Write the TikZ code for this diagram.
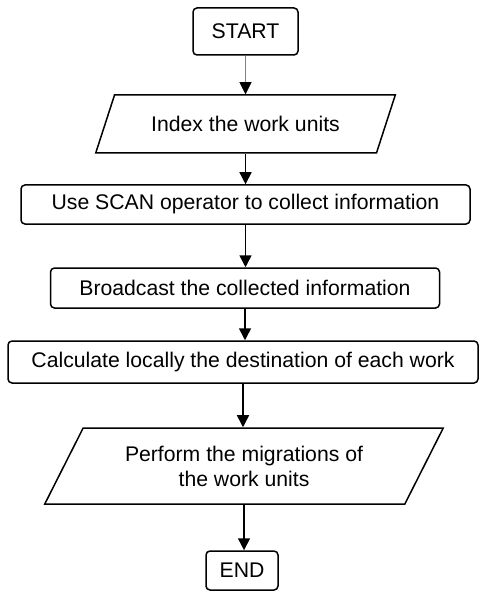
\documentclass[tikz,border=0pt]{standalone}
\usepackage{fontspec}
\setmainfont{Liberation Sans}
\usetikzlibrary{shapes.geometric,arrows.meta}
\tikzset{mydraw/.style={black,line width=0.75pt,-{Triangle[width=6pt,length=6pt,black]}}}
\tikzset{mybox/.style={draw,line width=0.75pt,rounded corners=2pt,inner sep=0pt,font=\fontsize{10.6}{12.5}\selectfont}}
\tikzset{myslant/.style={draw,line width=0.75pt,trapezium,trapezium stretches=true,inner sep=0pt,align=center,font=\fontsize{10.6}{12.5}\selectfont}}

\begin{document}
\begin{tikzpicture}[x=0.5pt,y=-0.5pt]
	\useasboundingbox (0,0) rectangle (480,593);

	\node[mybox,minimum width=52.5pt,minimum height=23.5pt] (start) at (245.5,31.5) {START};
	\node[myslant,trapezium left angle=49,trapezium right angle=131,minimum width=150pt,minimum height=29pt] (index) at (245.5,124) {Index the work units};
	\node[mybox,minimum width=224.5pt,minimum height=19.5pt] (scan) at (245.5,204.5) {Use SCAN operator to collect information};
	\node[mybox,minimum width=194.5pt,minimum height=20pt] (bcast) at (245,288) {Broadcast the collected information};
	\node[mybox,minimum width=235pt,minimum height=21pt] (calc) at (243,362) {Calculate locally the destination of each work};
	\node[myslant,trapezium left angle=55,trapezium right angle=125,minimum width=199.5pt,minimum height=38pt] (mig) at (244,466) {Perform the migrations of\\the work units};
	\node[mybox,minimum width=36pt,minimum height=19.5pt] (end) at (242,570.5) {END};

	% first link is thin and grey
	\draw[mydraw,line width=0.3pt,gray] (start.south) -- (start.south |- index.north);
	\draw[mydraw] (index.south) -- (index.south |- scan.north);
	\draw[mydraw] (scan.south) -- (scan.south |- bcast.north);
	\draw[mydraw] (bcast.south) -- (bcast.south |- calc.north);
	\draw[mydraw] (calc.south) -- (calc.south |- mig.north);
	\draw[mydraw] (mig.south) -- (mig.south |- end.north);
\end{tikzpicture}
\end{document}
